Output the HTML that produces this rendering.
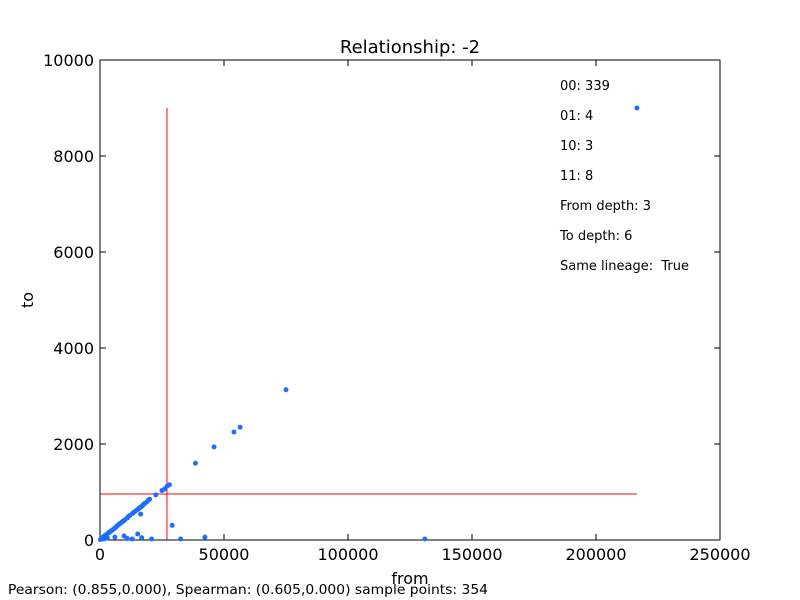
<!DOCTYPE html>
<html><head><meta charset="utf-8"><style>
body{margin:0;background:#fff;}
svg{display:block;font-family:"DejaVu Sans","Liberation Sans",sans-serif;}
text{white-space:pre;}
</style></head><body>
<svg id="c" width="800" height="600"></svg>
<script>
const xTicks=[0,50000,100000,150000,200000,250000];
const yTicks=[0,2000,4000,6000,8000,10000];
const xVals=[216500,75000,56500,54000,46000,38500,28000,27000,26000,25000,22500,20000,19500,19000,18000,17500,17000,16500,16000,15500,15000,14000,13500,13000,12000,11500,11000,10000,9500,9000,8500,8000,7500,7000,6500,6000,5500,5000,4500,4000,3500,3000,2500,2000,1500,1000,500,200,15200,16800,9700,29100,42300,20800,32500,16400,131000,6000,3000,1500,11000,13000];
const yVals=[9000,3130,2350,2250,1940,1600,1150,1120,1060,1030,940,850,830,800,760,740,710,690,670,650,630,590,570,550,510,490,460,420,400,380,360,340,320,300,270,250,230,210,190,170,150,130,110,90,70,50,30,10,125,48,83,306,60,20,20,540,20,60,40,20,30,20];
const vLine={x:27000,y0:0,y1:9000};
const hLine={y:958,x0:0,x1:216500};
const notes=["00: 339","01: 4","10: 3","11: 8","From depth: 3","To depth: 6","Same lineage:  True"];
const L=100,R=720,T=60,B=540;
const sx=v=>L+(v-0)/250000*(R-L);
const sy=v=>B-(v-0)/10000*(B-T);
const s=document.getElementById('c');const NS='http://www.w3.org/2000/svg';
function mk(t,a,txt){const e=document.createElementNS(NS,t);for(const k in a)e.setAttribute(k,a[k]);if(txt!==undefined)e.textContent=txt;s.appendChild(e);return e;}
let e;
e=mk('rect',{x:L,y:T,width:R-L,height:B-T,fill:'#fff',stroke:'#000','stroke-width':1});


xTicks.forEach(v=>{const x=sx(v);
e=mk('line',{x1:x,x2:x,y1:B,y2:B-6,stroke:'#000'});
mk('line',{x1:x,x2:x,y1:T,y2:T+6,stroke:'#000'});
e=mk('text',{x:x,y:B+20,'text-anchor':'middle','font-size':16},String(v));});
yTicks.forEach(v=>{const y=sy(v);
e=mk('line',{x1:L,x2:L+6,y1:y,y2:y,stroke:'#000'});
mk('line',{x1:R,x2:R-6,y1:y,y2:y,stroke:'#000'});
e=mk('text',{x:L-6,y:y+6,'text-anchor':'end','font-size':16},String(v));});
e=mk('line',{x1:sx(vLine.x),x2:sx(vLine.x),y1:sy(vLine.y0),y2:sy(vLine.y1),stroke:'#f00'});
e=mk('line',{x1:sx(hLine.x0),x2:sx(hLine.x1),y1:sy(hLine.y),y2:sy(hLine.y),stroke:'#f00'});
xVals.forEach((v,i)=>{e=mk('circle',{cx:sx(v),cy:sy(yVals[i]),r:2.5,fill:'#1f6fff'});});
notes.forEach((t,i)=>{e=mk('text',{x:560,y:90+i*30,'font-size':13},t);});
e=mk('text',{x:410,y:53,'text-anchor':'middle','font-size':18},'Relationship: -2');
e=mk('text',{x:410,y:584,'text-anchor':'middle','font-size':16},'from');
e=mk('text',{x:33,y:300,'text-anchor':'middle','font-size':16,transform:'rotate(-90 33 300)'},'to');
e=mk('text',{x:8,y:594,'font-size':13,textLength:480,lengthAdjust:'spacingAndGlyphs'},'Pearson: (0.855,0.000), Spearman: (0.605,0.000) sample points: 354');
</script>
</body></html>
